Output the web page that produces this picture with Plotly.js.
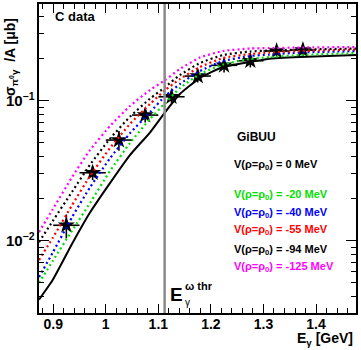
<!DOCTYPE html>
<html>
<head>
<meta charset="utf-8">
<script src="https://cdn.plot.ly/plotly-3.0.1.min.js"></script>
<style>
  html, body { margin: 0; padding: 0; background: #fff; }
  #chart { width: 361px; height: 350px; }
</style>
</head>
<body>
<div id="chart"></div>
<script>
// Measured pi0-gamma cross section per nucleon on carbon
const dataEnergy = [0.925, 0.975, 1.025, 1.075, 1.125, 1.175, 1.225, 1.275, 1.325, 1.375];
const dataSigma  = [0.0129, 0.0306, 0.0524, 0.0790, 0.1068, 0.1501, 0.1790, 0.1931, 0.2265, 0.2302];
const dataErrE   = [0.025, 0.025, 0.025, 0.025, 0.025, 0.025, 0.025, 0.025, 0.025, 0.025];
const dataErrSig = [0.0025, 0.0035, 0.0085, 0.009, 0.010, 0.015, 0.020, 0.020, 0.020, 0.025];

// GiBUU calculations for different in-medium omega potentials
const modelEnergy = [0.873, 0.899, 0.936, 0.970, 1.008, 1.046, 1.084, 1.113, 1.141, 1.179, 1.223, 1.274, 1.312, 1.370, 1.476];
const modelV0   = [0.00380, 0.00524, 0.00952, 0.0159, 0.0258, 0.0409, 0.0593, 0.0830, 0.1117, 0.1453, 0.1741, 0.1889, 0.1995, 0.2051, 0.2121];
const modelV20  = [0.00499, 0.00716, 0.01183, 0.01859, 0.03147, 0.04987, 0.0740, 0.0963, 0.1232, 0.1551, 0.1814, 0.1986, 0.2051, 0.2121, 0.2191];
const modelV40  = [0.00550, 0.00822, 0.01477, 0.02406, 0.03878, 0.05851, 0.0826, 0.1080, 0.1316, 0.1630, 0.1921, 0.2086, 0.2138, 0.2210, 0.2265];
const modelV55  = [0.00728, 0.01046, 0.01799, 0.02898, 0.04593, 0.06817, 0.0947, 0.1192, 0.1429, 0.1741, 0.2018, 0.2156, 0.2210, 0.2265, 0.2321];
const modelV94  = [0.00979, 0.01382, 0.02239, 0.0349, 0.05353, 0.07686, 0.1033, 0.1253, 0.1526, 0.1859, 0.2121, 0.2246, 0.2284, 0.2321, 0.2360];
const modelV125 = [0.01153, 0.01674, 0.02851, 0.04444, 0.06597, 0.09166, 0.1192, 0.1406, 0.1684, 0.2035, 0.2265, 0.2360, 0.2379, 0.2399, 0.2419];

const potentialLabels = ['0', '-20', '-40', '-55', '-94', '-125'];
const potentialColors = ['#000000', '#00e000', '#0000ff', '#ff0000', '#000000', '#ff00ff'];

// omega production threshold on carbon
const omegaThreshold = 1.112;

const FONT = 'Liberation Sans, Arial, Helvetica, sans-serif';

const modelSeries = [modelV0, modelV20, modelV40, modelV55, modelV94, modelV125];

const traces = [{
  x: dataEnergy, y: dataSigma, type: 'scatter', mode: 'markers',
  marker: { symbol: 'star', size: 13, color: '#000' },
  error_x: { type: 'data', array: dataErrE, color: '#000', thickness: 1.6, width: 0 },
  error_y: { type: 'data', array: dataErrSig, color: '#000', thickness: 1.6, width: 0 },
  showlegend: false, hoverinfo: 'skip'
}];

modelSeries.forEach((vals, i) => {
  traces.push({
    x: modelEnergy, y: vals, type: 'scatter', mode: 'lines',
    line: i === 0
      ? { color: potentialColors[i], width: 2, shape: 'spline', smoothing: 0.5 }
      : { color: potentialColors[i], width: 2.2, dash: '2px,3px', shape: 'spline', smoothing: 0.5 },
    showlegend: false, hoverinfo: 'skip'
  });
});

// pixel helpers for text placement inside the frame
const L = 39, R = 356, T = 4, B = 313;
const px = v => (v - L) / (R - L);
const py = v => (B - v) / (B - T);

const labelTops = [165, 195, 212.7, 230, 250, 267.3];
const annotations = potentialLabels.map((p, i) => ({
  xref: 'paper', yref: 'paper', x: px(231.7), y: py(labelTops[i]),
  xanchor: 'left', yanchor: 'middle', showarrow: false,
  text: 'V(ρ=ρ<sub>0</sub>) = ' + p + ' MeV',
  font: { family: FONT, size: 11, weight: 'bold', color: potentialColors[i] }
}));

annotations.push(
  { xref: 'paper', yref: 'paper', x: px(53), y: py(16.7), xanchor: 'left', yanchor: 'middle',
    showarrow: false, text: 'C data', font: { family: FONT, size: 13, weight: 'bold', color: '#000' } },
  { xref: 'paper', yref: 'paper', x: px(235), y: py(136.7), xanchor: 'left', yanchor: 'middle',
    showarrow: false, text: 'GiBUU', font: { family: FONT, size: 12, weight: 'bold', color: '#000' } },
  { xref: 'paper', yref: 'paper', x: px(176.5), y: py(294), xanchor: 'center', yanchor: 'middle',
    showarrow: false, text: 'E', font: { family: FONT, size: 19, weight: 'bold', color: '#000' } },
  { xref: 'paper', yref: 'paper', x: px(183), y: py(286), xanchor: 'left', yanchor: 'middle',
    showarrow: false, text: 'ω thr', font: { family: FONT, size: 11, weight: 'bold', color: '#000' } },
  { xref: 'paper', yref: 'paper', x: px(182.5), y: py(302), xanchor: 'left', yanchor: 'middle',
    showarrow: false, text: 'γ', font: { family: FONT, size: 10, color: '#000' } },
  { xref: 'paper', yref: 'paper', x: px(355), y: py(339), xanchor: 'right', yanchor: 'middle',
    showarrow: false, text: 'E<sub>γ</sub> [GeV]', font: { family: FONT, size: 14, weight: 'bold', color: '#000' } },
  { xref: 'paper', yref: 'paper', x: px(11), y: py(57), xanchor: 'center', yanchor: 'middle',
    textangle: -90, showarrow: false,
    text: 'σ<sub>π<sup>0</sup>γ</sub>  /A [μb]', font: { family: FONT, size: 14, weight: 'bold', color: '#000' } }
);

const layout = {
  width: 361, height: 350,
  margin: { l: 39, r: 5, t: 4, b: 37, pad: 0 },
  paper_bgcolor: '#fff', plot_bgcolor: '#fff',
  font: { family: FONT, color: '#000' },
  showlegend: false,
  xaxis: {
    range: [0.873, 1.476], tick0: 0.9, dtick: 0.1,
    ticks: 'inside', ticklen: 9, tickwidth: 1, tickcolor: '#000',
    minor: { dtick: 0.02, ticks: 'inside', ticklen: 5, tickwidth: 1, tickcolor: '#000' },
    mirror: 'allticks', showline: true, linecolor: '#000', linewidth: 2,
    showgrid: false, zeroline: false, ticklabelstandoff: -3,
    tickfont: { family: FONT, size: 14, weight: 'bold', color: '#000' }
  },
  yaxis: {
    type: 'log', range: [-2.516, -0.309], dtick: 1, exponentformat: 'power',
    ticks: 'inside', ticklen: 10, tickwidth: 1, tickcolor: '#000',
    minor: { dtick: 'D1', ticks: 'inside', ticklen: 5, tickwidth: 1, tickcolor: '#000' },
    mirror: 'allticks', showline: true, linecolor: '#000', linewidth: 2,
    showgrid: false, zeroline: false,
    tickfont: { family: FONT, size: 12, weight: 'bold', color: '#000' }
  },
  shapes: [{
    type: 'line', xref: 'x', yref: 'paper',
    x0: omegaThreshold, x1: omegaThreshold, y0: 0, y1: 1,
    line: { color: '#8a8a8a', width: 2.5 }
  }],
  annotations: annotations
};

Plotly.newPlot('chart', traces, layout, { staticPlot: true, displayModeBar: false });
</script>
</body>
</html>
